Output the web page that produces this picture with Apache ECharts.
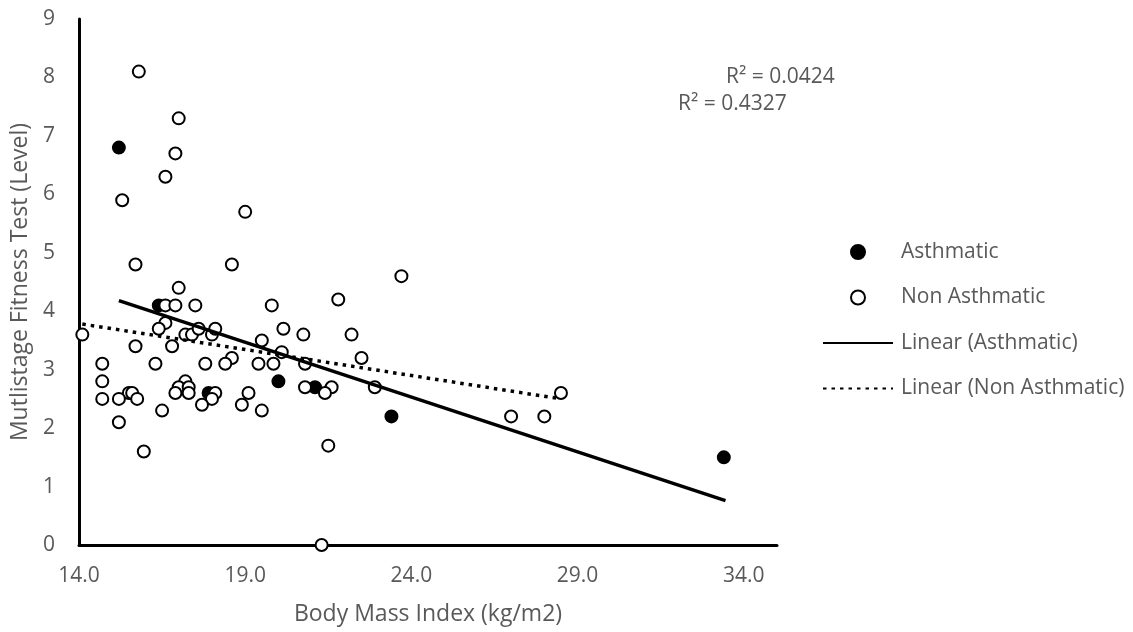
<!DOCTYPE html>
<html><head><meta charset="utf-8">
<script src="https://cdn.jsdelivr.net/npm/echarts@6/dist/echarts.min.js"></script>
<style>html,body{margin:0;padding:0;background:#fff}#c{width:1133px;height:632px}</style>
</head><body><div id="c"></div>
<script>
// Asthmatic participants
const asthmaticBMI   = [15.2, 16.4, 17.9, 20.0, 21.1, 23.4, 33.4];
const asthmaticLevel = [6.8, 4.1, 2.6, 2.8, 2.7, 2.2, 1.5];

// Non asthmatic participants
const nonBMI = [15.8, 17.0, 16.9, 16.6, 15.3, 19.0, 15.7, 18.6, 17.0, 23.7,
                21.8, 16.6, 16.9, 17.5, 19.8, 16.6, 16.4, 17.2, 17.4, 17.6,
                18.0, 18.1, 14.1, 20.15, 20.75, 22.2, 19.5, 15.7, 16.8, 20.1,
                18.6, 22.5, 14.7, 16.3, 17.8, 18.4, 19.4, 19.85, 20.8, 14.7,
                17.2, 17.0, 17.3, 20.8, 21.6, 22.9, 16.9, 17.3, 18.1, 19.1,
                21.4, 15.5, 15.6, 28.5, 14.7, 15.2, 15.75, 18.0, 17.7, 18.9,
                16.5, 19.5, 27.0, 28.0, 15.2, 15.95, 21.5, 21.3];
const nonLevel = [8.1, 7.3, 6.7, 6.3, 5.9, 5.7, 4.8, 4.8, 4.4, 4.6,
                  4.2, 4.1, 4.1, 4.1, 4.1, 3.8, 3.7, 3.6, 3.6, 3.7,
                  3.6, 3.7, 3.6, 3.7, 3.6, 3.6, 3.5, 3.4, 3.4, 3.3,
                  3.2, 3.2, 3.1, 3.1, 3.1, 3.1, 3.1, 3.1, 3.1, 2.8,
                  2.8, 2.7, 2.7, 2.7, 2.7, 2.7, 2.6, 2.6, 2.6, 2.6,
                  2.6, 2.6, 2.6, 2.6, 2.5, 2.5, 2.5, 2.5, 2.4, 2.4,
                  2.3, 2.3, 2.2, 2.2, 2.1, 1.6, 1.7, 0.0];

// Trendline end points
const trendAsthmaticX = [15.2, 33.45];
const trendAsthmaticY = [4.18, 0.76];
const trendNonX = [14.1, 28.5];
const trendNonY = [3.78, 2.50];

const seriesNames = ['Asthmatic', 'Non Asthmatic', 'Linear (Asthmatic)', 'Linear (Non Asthmatic)'];
const r2Labels = ['R\u00B2 = 0.0424', 'R\u00B2 = 0.4327'];
const xAxisTitle = 'Body Mass Index (kg/m2)';
const yAxisTitle = 'Mutlistage Fitness Test (Level)';

const zip = (xs, ys) => xs.map((x, i) => [x, ys[i]]);
const FONT = 'Open Sans';
const GREY = '#595959';

const chart = echarts.init(document.getElementById('c'), null, {renderer: 'canvas'});
chart.setOption({
  animation: false,
  backgroundColor: '#fff',
  textStyle: {fontFamily: FONT},
  grid: {left: 79, right: 356, top: 19, bottom: 87, containLabel: false, outerBoundsMode: 'none'},
  xAxis: {
    type: 'value', min: 14, max: 35, interval: 5,
    axisLine: {show: true, onZero: false, lineStyle: {color: '#000', width: 3}},
    axisTick: {show: false},
    splitLine: {show: false},
    axisLabel: {color: GREY, fontSize: 21, fontFamily: FONT, margin: 21, showMaxLabel: false,
      formatter: v => (v > 34.5 ? '' : v.toFixed(1))},
    name: xAxisTitle, nameLocation: 'middle', nameGap: 58,
    nameTextStyle: {color: GREY, fontSize: 23, fontFamily: FONT}
  },
  yAxis: {
    type: 'value', min: 0, max: 9, interval: 1,
    axisLine: {show: true, onZero: false, lineStyle: {color: '#000', width: 3}},
    axisTick: {show: false},
    splitLine: {show: false},
    axisLabel: {color: GREY, fontSize: 21, fontFamily: FONT, margin: 24},
    name: yAxisTitle, nameLocation: 'middle', nameGap: 45,
    nameTextStyle: {color: GREY, fontSize: 23, fontFamily: FONT}
  },
  legend: {
    orient: 'vertical', left: 817, top: 236.5,
    itemWidth: 70, itemHeight: 14, itemGap: 24.5,
    textStyle: {color: GREY, fontSize: 21, fontFamily: FONT, padding: [0, 0, 0, 3]},
    data: [
      {name: seriesNames[0]},
      {name: seriesNames[1]},
      {name: seriesNames[2], itemStyle: {opacity: 0, color: 'rgba(0,0,0,0)', borderWidth: 0}},
      {name: seriesNames[3], itemStyle: {opacity: 0, color: 'rgba(0,0,0,0)', borderWidth: 0}}
    ]
  },
  graphic: [
    {type: 'text', left: 726, top: 66.5, style: {text: r2Labels[0], fill: GREY, font: '21px "' + FONT + '"'}},
    {type: 'text', left: 678, top: 93.5, style: {text: r2Labels[1], fill: GREY, font: '21px "' + FONT + '"'}}
  ],
  series: [
    {name: seriesNames[0], type: 'scatter', data: zip(asthmaticBMI, asthmaticLevel),
     symbol: 'circle', symbolSize: 12, z: 2,
     itemStyle: {color: '#000', borderColor: '#000', borderWidth: 2, opacity: 1}},
    {name: seriesNames[1], type: 'scatter', data: zip(nonBMI, nonLevel),
     symbol: 'circle', symbolSize: 12, z: 3,
     itemStyle: {color: '#fff', borderColor: '#000', borderWidth: 2, opacity: 1}},
    {name: seriesNames[2], type: 'line', data: zip(trendAsthmaticX, trendAsthmaticY),
     symbol: 'none', z: 4, lineStyle: {color: '#000', width: 3.5},
     itemStyle: {color: 'rgba(0,0,0,0)', borderWidth: 0}},
    {name: seriesNames[3], type: 'line', data: zip(trendNonX, trendNonY),
     symbol: 'none', z: 4, lineStyle: {color: '#000', width: 3.5, type: [3.5, 5]},
     itemStyle: {color: 'rgba(0,0,0,0)', borderWidth: 0}}
  ]
});
</script></body></html>
